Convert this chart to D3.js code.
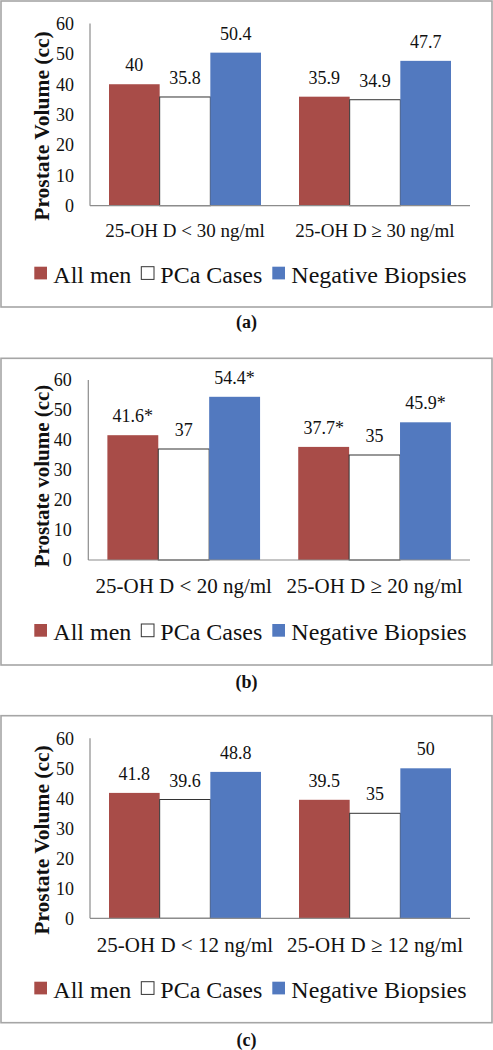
<!DOCTYPE html>
<html><head><meta charset="utf-8">
<script src="https://cdn.jsdelivr.net/npm/d3@7"></script>
<style>
html,body{margin:0;padding:0;background:#fff;}
svg{display:block;}
text{font-family:"Liberation Serif","Times New Roman",serif;fill:#111;}
</style></head>
<body>
<svg id="chart" width="493" height="1050"></svg>
<script>
// ---------- data ----------
const seriesNames = ["All men", "PCa Cases", "Negative Biopsies"];
const yTicks = [0, 10, 20, 30, 40, 50, 60];

const categoriesA = ["25-OH D < 30 ng/ml", "25-OH D \u2265 30 ng/ml"];
const allMenA = [40, 35.9];
const pcaA = [35.8, 34.9];
const negA = [50.4, 47.7];
const starsA = [["", ""], ["", ""], ["", ""]];

const categoriesB = ["25-OH D < 20 ng/ml", "25-OH D \u2265 20 ng/ml"];
const allMenB = [41.6, 37.7];
const pcaB = [37, 35];
const negB = [54.4, 45.9];
const starsB = [["*", "*"], ["", ""], ["*", "*"]];

const categoriesC = ["25-OH D < 12 ng/ml", "25-OH D \u2265 12 ng/ml"];
const allMenC = [41.8, 39.5];
const pcaC = [39.6, 35];
const negC = [48.8, 50];
const starsC = [["", ""], ["", ""], ["", ""]];

// ---------- styles ----------
const colors = ["#A84C48", "#FFFFFF", "#5279BF"];
const FONT = "'Liberation Serif','Times New Roman',serif";

const panels = [
  {cats: categoriesA, vals: [allMenA, pcaA, negA], stars: starsA, title: "Prostate Volume (cc)", caption: "(a)",
   frame: [1, 1, 491, 306], xl: 90, xr: 470, y0: 205.7, y60: 23.5, tickX: 74, titleX: 49, titleY: 126, titleSize: 21.5,
   catY: 236.7, catSize: 19, legY: 282.7, capY: 328},
  {cats: categoriesB, vals: [allMenB, pcaB, negB], stars: starsB, title: "Prostate volume (cc)", caption: "(b)",
   frame: [1, 358.3, 491, 306.7], xl: 88.3, xr: 470, y0: 560, y60: 380, tickX: 71.7, titleX: 48.5, titleY: 476, titleSize: 21,
   catY: 593.3, catSize: 21, legY: 640, capY: 688},
  {cats: categoriesC, vals: [allMenC, pcaC, negC], stars: starsC, title: "Prostate Volume (cc)", caption: "(c)",
   frame: [1, 715.7, 491, 307], xl: 90, xr: 470, y0: 918.3, y60: 738.3, tickX: 74, titleX: 49, titleY: 840, titleSize: 21.5,
   catY: 951.7, catSize: 21, legY: 997.7, capY: 1046}
];

const svg = d3.select("#chart");

panels.forEach(p => {
  const g = svg.append("g").attr("font-family", FONT);
  // frame
  g.append("rect").attr("x", p.frame[0]).attr("y", p.frame[1]).attr("width", p.frame[2]).attr("height", p.frame[3])
    .attr("fill", "none").attr("stroke", "#a6a6a6").attr("stroke-width", 1.6);

  const y = d3.scaleLinear().domain([0, 60]).range([p.y0, p.y60]);
  const x0 = d3.scaleBand().domain(p.cats).range([p.xl, p.xr]).paddingInner(0).paddingOuter(0);
  const x1 = d3.scaleBand().domain(d3.range(seriesNames.length)).range([0, x0.bandwidth()]).paddingInner(0).paddingOuter(0.375);

  // bars
  p.cats.forEach((c, ci) => {
    seriesNames.forEach((s, si) => {
      const v = p.vals[si][ci];
      const bx = x0(c) + x1(si);
      g.append("rect").attr("x", bx).attr("y", y(v)).attr("width", x1.bandwidth()).attr("height", y(0) - y(v))
        .attr("fill", colors[si])
        .attr("stroke", si === 1 ? "#333" : "none").attr("stroke-width", si === 1 ? 1 : 0);
      g.append("text").attr("x", bx + x1.bandwidth() / 2).attr("y", y(v) - 13)
        .attr("text-anchor", "middle").attr("font-size", 18)
        .text(d3.format("")(v) + p.stars[si][ci]);
    });
  });

  // axes lines
  g.append("line").attr("x1", p.xl).attr("x2", p.xl).attr("y1", y(60)).attr("y2", y(0))
    .attr("stroke", "#8c8c8c").attr("stroke-width", 1.2);
  g.append("line").attr("x1", p.xl).attr("x2", p.xr).attr("y1", y(0)).attr("y2", y(0))
    .attr("stroke", "#8c8c8c").attr("stroke-width", 1.2);

  // y tick labels
  yTicks.forEach(t => {
    g.append("text").attr("x", p.tickX).attr("y", y(t)).attr("dy", "0.36em")
      .attr("text-anchor", "end").attr("font-size", 18).text(t);
  });

  // y title
  g.append("text").attr("transform", `translate(${p.titleX},${p.titleY}) rotate(-90)`)
    .attr("text-anchor", "middle").attr("font-weight", "bold").attr("font-size", p.titleSize).text(p.title);

  // category labels
  p.cats.forEach(c => {
    g.append("text").attr("x", x0(c) + x0.bandwidth() / 2).attr("y", p.catY)
      .attr("text-anchor", "middle").attr("font-size", p.catSize).text(c);
  });

  // legend
  let lx = 34.3;
  seriesNames.forEach((s, si) => {
    g.append("rect").attr("x", lx).attr("y", p.legY - 16).attr("width", 12.7).attr("height", 12.7)
      .attr("fill", colors[si]).attr("stroke", si === 1 ? "#333" : "none").attr("stroke-width", 1);
    const t = g.append("text").attr("x", lx + 19).attr("y", p.legY).attr("font-size", 24).text(s);
    lx = lx + 19 + t.node().getComputedTextLength() + 10;
  });

  // caption
  g.append("text").attr("x", 246.5).attr("y", p.capY).attr("text-anchor", "middle")
    .attr("font-weight", "bold").attr("font-size", 18).text(p.caption);
});
</script>
</body></html>
